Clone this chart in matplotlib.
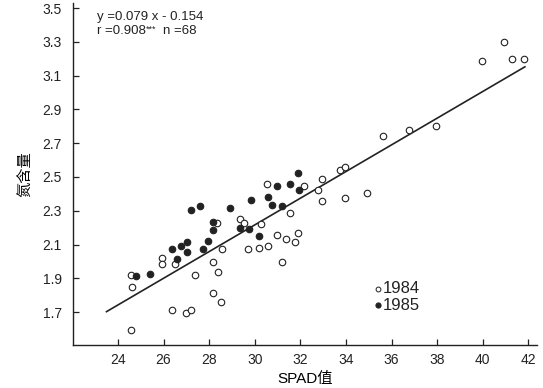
import matplotlib
matplotlib.use("Agg")
import matplotlib.pyplot as plt
import numpy as np

plt.rcParams['font.family'] = ['Liberation Sans', 'Noto Sans CJK SC', 'DejaVu Sans']

# 1984 (open circles)
spad_1984 = [24.57, 24.60, 25.93, 25.93, 26.51, 27.38, 26.38, 26.97, 27.20, 24.56,
             28.33, 28.55, 28.15, 28.37, 28.15, 28.53, 29.36, 29.54, 30.27, 29.71,
             30.17, 30.58, 30.96, 31.36, 31.78, 31.91, 31.18, 30.55, 31.53, 32.17,
             32.93, 32.76, 32.93, 33.75, 33.97, 33.96, 34.93, 35.62, 36.75, 37.95,
             39.96, 40.93, 41.27, 41.82]
n_1984 = [1.919, 1.846, 2.020, 1.982, 1.986, 1.919, 1.712, 1.696, 1.710, 1.593,
          2.229, 2.071, 1.998, 1.939, 1.812, 1.757, 2.252, 2.227, 2.219, 2.071,
          2.077, 2.093, 2.158, 2.132, 2.116, 2.170, 1.998, 2.458, 2.284, 2.446,
          2.489, 2.422, 2.357, 2.539, 2.560, 2.375, 2.406, 2.742, 2.776, 2.799,
          3.186, 3.297, 3.200, 3.198]

# 1985 (filled circles)
spad_1985 = [24.79, 25.42, 26.37, 26.60, 26.78, 27.03, 27.02, 27.20, 27.60, 28.15,
             28.15, 27.95, 27.74, 28.93, 29.82, 29.36, 29.75, 30.18, 30.99, 30.58,
             30.77, 31.18, 31.54, 31.91, 31.93]
n_1985 = [1.913, 1.927, 2.073, 2.014, 2.093, 2.113, 2.057, 2.307, 2.329, 2.235,
          2.186, 2.120, 2.075, 2.318, 2.361, 2.199, 2.191, 2.152, 2.446, 2.379,
          2.334, 2.329, 2.460, 2.525, 2.422]

slope = 0.079
intercept = -0.154
fit_range = [23.5, 41.85]

xticks = [24, 26, 28, 30, 32, 34, 36, 38, 40, 42]
yticks = [1.7, 1.9, 2.1, 2.3, 2.5, 2.7, 2.9, 3.1, 3.3, 3.5]
years = ['1984', '1985']

ink = '#222222'
fig = plt.figure(figsize=(5.43, 3.88), dpi=100)
ax = fig.add_axes([73/543, 43/388, 464/543, 342/388])

fx = np.array(fit_range)
ax.plot(fx, slope * fx + intercept, color=ink, lw=1.2, zorder=1)

ax.scatter(spad_1984, n_1984, s=22, facecolors='white', edgecolors=ink,
           linewidths=0.8, zorder=2)
ax.scatter(spad_1985, n_1985, s=22, facecolors=ink, edgecolors=ink,
           linewidths=0.8, zorder=3)

ax.set_xlim(22.03, 42.38)
ax.set_ylim(1.505, 3.53)
ax.set_xticks(xticks)
ax.set_yticks(yticks)
ax.set_yticklabels(['%.1f' % v for v in yticks])
ax.tick_params(direction='in', length=4, width=0.9, labelsize=10, colors=ink)
ax.tick_params(axis='x', pad=6)
ax.tick_params(axis='y', pad=8)
for s in ['top', 'right']:
    ax.spines[s].set_visible(False)
for s in ['left', 'bottom']:
    ax.spines[s].set_linewidth(1.0)
    ax.spines[s].set_color(ink)

ax.set_xlabel('SPAD值', fontsize=11, labelpad=3)
ax.set_ylabel('氮含量', fontsize=11, labelpad=7)

# equation text
ax.text(0.052, 0.978, 'y =0.079 x - 0.154', transform=ax.transAxes, fontsize=9.5,
        va='top', ha='left', color=ink)
ax.text(0.052, 0.935, 'r =0.908', transform=ax.transAxes, fontsize=9.5,
        va='top', ha='left', color=ink)
ax.text(0.158, 0.935, '***', transform=ax.transAxes, fontsize=6.5,
        va='top', ha='left', color=ink)
ax.text(0.195, 0.935, 'n =68', transform=ax.transAxes, fontsize=9.5,
        va='top', ha='left', color=ink)

# legend
ax.scatter([0.657], [0.164], s=12, facecolors='white', edgecolors=ink,
           linewidths=0.7, transform=ax.transAxes, clip_on=False)
ax.scatter([0.657], [0.116], s=14, facecolors=ink, edgecolors=ink,
           linewidths=0.7, transform=ax.transAxes, clip_on=False)
ax.text(0.668, 0.164, years[0], transform=ax.transAxes, fontsize=12,
        va='center', ha='left', color=ink)
ax.text(0.668, 0.116, years[1], transform=ax.transAxes, fontsize=12,
        va='center', ha='left', color=ink)

fig.savefig('out.png', dpi=100)
